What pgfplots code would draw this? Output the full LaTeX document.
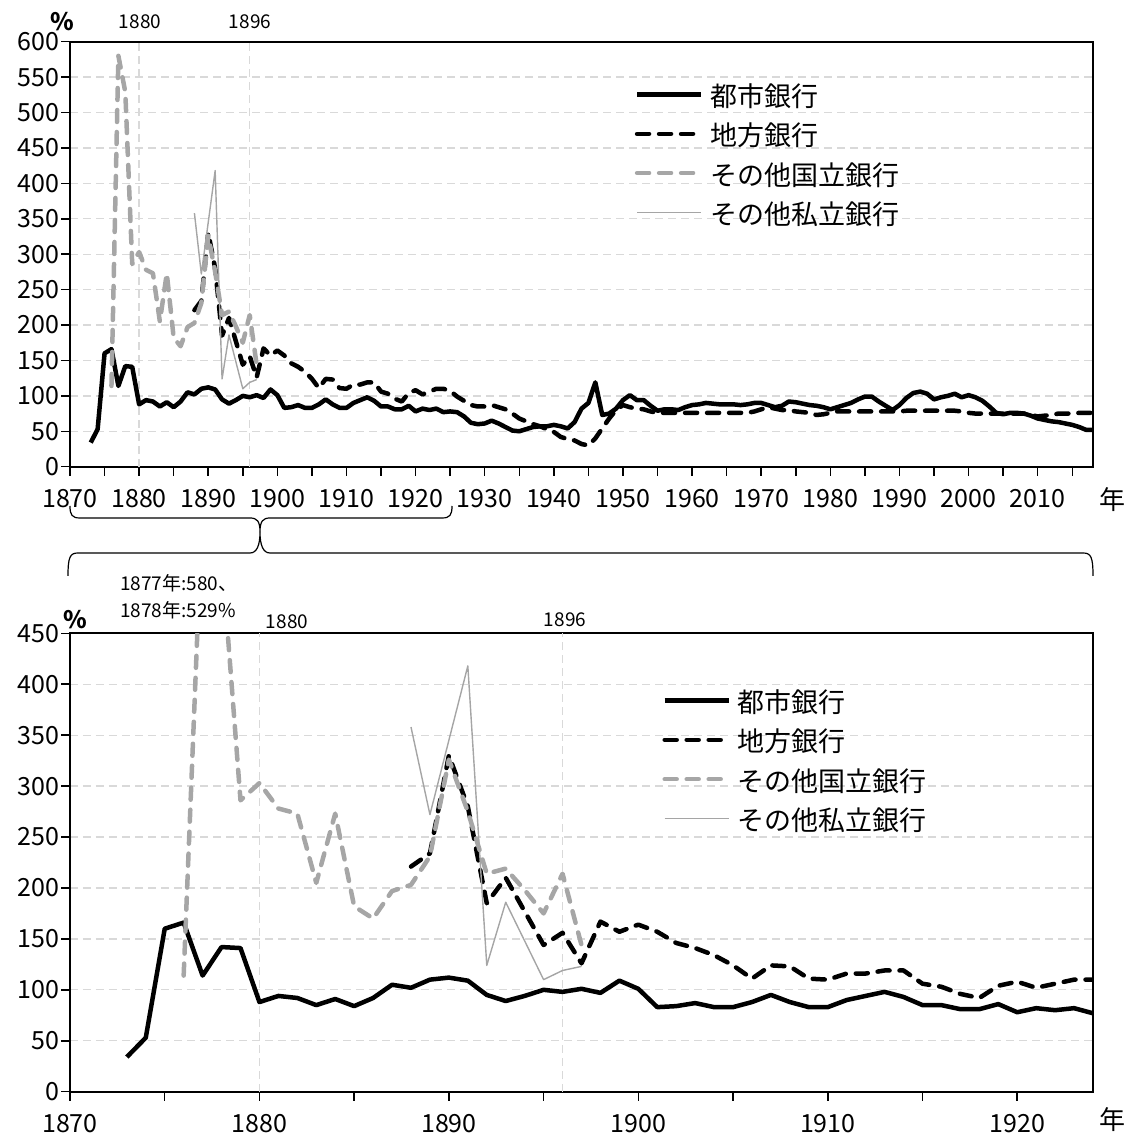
\documentclass[border=0pt]{standalone}
\usepackage{fontspec}
\setmainfont{Noto Sans CJK JP}
\usepackage{pgfplots}
\usepackage{pgfplotstable}
\pgfplotsset{compat=1.18}

\definecolor{natgray}{HTML}{A6A6A6}
\definecolor{privgray}{HTML}{A5A5A5}
\definecolor{gridgray}{HTML}{D9D9D9}

% 都市銀行
\pgfplotstableread{
year ratio
1873 34
1874 53
1875 160
1876 166
1877 114
1878 142
1879 141
1880 88
1881 94
1882 92
1883 85
1884 91
1885 84
1886 92
1887 105
1888 102
1889 110
1890 112
1891 109
1892 95
1893 89
1894 94
1895 100
1896 98
1897 101
1898 97
1899 109
1900 101
1901 83
1902 84
1903 87
1904 83
1905 83
1906 88
1907 95
1908 88
1909 83
1910 83
1911 90
1912 94
1913 98
1914 93
1915 85
1916 85
1917 81
1918 81
1919 86
1920 78
1921 82
1922 80
1923 82
1924 77
1925 78
1926 77
1927 71
1928 62
1929 60
1930 61
1931 65
1932 61
1933 56
1934 51
1935 50
1936 53
1937 56
1938 57
1939 57
1940 59
1941 57
1942 54
1943 63
1944 82
1945 90
1946 119
1947 73
1948 75
1949 82
1950 94
1951 101
1952 94
1953 94
1954 86
1955 79
1956 81
1957 81
1958 80
1959 84
1960 87
1961 88
1962 90
1963 89
1964 88
1965 88
1966 88
1967 87
1968 88
1969 90
1970 90
1971 87
1972 84
1973 86
1974 92
1975 91
1976 89
1977 87
1978 86
1979 84
1980 81
1981 84
1982 87
1983 90
1984 95
1985 99
1986 99
1987 92
1988 86
1989 80
1990 87
1991 97
1992 104
1993 106
1994 103
1995 95
1996 98
1997 100
1998 103
1999 98
2000 101
2001 98
2002 93
2003 85
2004 76
2005 74
2006 76
2007 76
2008 75
2009 72
2010 68
2011 66
2012 64
2013 63
2014 61
2015 59
2016 56
2017 52
2018 52
}\citybanks

% 地方銀行
\pgfplotstableread{
year ratio
1888 221
1889 234
1890 330
1891 280
1892 185
1893 210
1894 177
1895 144
1896 156
1897 126
1898 167
1899 157
1900 164
1901 157
1902 146
1903 141
1904 134
1905 124
1906 111
1907 124
1908 123
1909 111
1910 110
1911 116
1912 116
1913 119
1914 119
1915 106
1916 103
1917 96
1918 92
1919 104
1920 108
1921 102
1922 106
1923 110
1924 110
1925 107
1926 99
1927 93
1928 87
1929 85
1930 85
1931 87
1932 84
1933 81
1934 75
1935 68
1936 64
1937 60
1938 57
1939 53
1940 49
1941 42
1942 39
1943 37
1944 32
1945 30
1946 40
1947 54
1948 68
1949 80
1950 87
1951 84
1952 82
1953 81
1954 78
1955 76
1956 76
1957 76
1958 76
1959 76
1960 76
1961 76
1962 76
1963 76
1964 76
1965 76
1966 76
1967 76
1968 76
1969 78
1970 81
1971 84
1972 82
1973 80
1974 80
1975 78
1976 77
1977 76
1978 73
1979 74
1980 76
1981 78
1982 78
1983 78
1984 78
1985 78
1986 78
1987 78
1988 78
1989 78
1990 78
1991 79
1992 79
1993 79
1994 79
1995 79
1996 79
1997 79
1998 79
1999 78
2000 76
2001 75
2002 75
2003 75
2004 75
2005 75
2006 75
2007 75
2008 75
2009 73
2010 71
2011 72
2012 73
2013 75
2014 75
2015 75
2016 76
2017 76
2018 76
}\regionalbanks

% その他国立銀行
\pgfplotstableread{
year ratio
1876 114
1877 580
1878 529
1879 286
1880 303
1881 278
1882 273
1883 205
1884 273
1885 182
1886 170
1887 197
1888 203
1889 231
1890 326
1891 275
1892 214
1893 219
1894 198
1895 175
1896 214
1897 144
}\nationalbanks

% その他私立銀行
\pgfplotstableread{
year ratio
1888 358
1889 272
1890 345
1891 418
1892 124
1893 186
1894 148
1895 110
1896 119
1897 123
}\privatebanks

\pgfplotsset{
  citybank/.style={black, line width=4.5pt, line join=round},
  regionalbank/.style={black, line width=4.5pt, line join=round, line cap=round, dash pattern=on 12pt off 10pt},
  nationalbank/.style={natgray, line width=4.5pt, line join=round, line cap=round, dash pattern=on 12pt off 10pt},
  privatebank/.style={privgray, line width=1.4pt, line join=round},
  bankaxis/.style={
    scale only axis,
    width=1023pt,
    xmin=1870, ymin=0,
    axis line style={black, line width=1.8pt},
    tick pos=left, tick align=outside,
    major tick length=9pt, minor tick length=9pt,
    every tick/.style={black, line width=1.5pt},
    ytick distance=50,
    ymajorgrids,
    major grid style={gridgray, line width=1.3pt, dash pattern=on 8pt off 5pt},
    extra x ticks={1880,1896},
    extra x tick labels={},
    extra x tick style={grid=major, major tick length=0pt},
    ticklabel style={font=\fontsize{25}{25}\selectfont},
    xticklabel style={yshift=-10pt},
    yticklabel style={xshift=2pt},
    /pgf/number format/assume math mode=true,
    /pgf/number format/1000 sep={},
    legend style={draw=none, fill=none, font=\fontsize{27}{27}\selectfont,
      nodes={inner sep=0pt, text height=19pt, text depth=6pt},
      row sep=14.2pt,
      /tikz/every even column/.append style={column sep=8pt},
      /tikz/every odd column/.append style={column sep=7pt}},
    legend cell align=left,
    legend image code/.code={\draw[##1] (0pt,5.5pt) -- (64pt,5.5pt);},
  },
}

\newcommand{\bankseries}{%
  \addplot[citybank] table[x=year,y=ratio]{\citybanks};
  \addlegendentry{都市銀行}
  \addplot[regionalbank] table[x=year,y=ratio]{\regionalbanks};
  \addlegendentry{地方銀行}
  \addplot[nationalbank] table[x=year,y=ratio]{\nationalbanks};
  \addlegendentry{その他国立銀行}
  \addplot[privatebank] table[x=year,y=ratio]{\privatebanks};
  \addlegendentry{その他私立銀行}
}

\begin{document}
\begin{tikzpicture}
\useasboundingbox (0,0) rectangle (1128pt,1135pt);

% 1870--2018
\begin{axis}[bankaxis, at={(70pt,668.3pt)}, anchor=south west,
  height=425pt, xmax=2018, ymax=600,
  xtick={1870,1880,...,2010}, minor xtick={1875,1885,...,2015},
  legend style={at={(0.549,0.897)}, anchor=north west}]
\bankseries
\end{axis}

% 1870--1924
\begin{axis}[bankaxis, at={(70pt,43.3pt)}, anchor=south west,
  height=458.4pt, xmax=1924, ymax=450,
  xtick={1870,1880,...,1920}, minor xtick={1875,1885,...,1915},
  legend style={at={(0.576,0.873)}, anchor=north west}]
\bankseries
\end{axis}

\begin{scope}[x=1pt, y=-1pt, shift={(0pt,1135pt)}]
  % units and reference years
  \node[font=\fontsize{24}{24}\selectfont\bfseries] at (62,22) {\%};
  \node[font=\fontsize{19}{19}\selectfont] at (140,22) {1880};
  \node[font=\fontsize{19}{19}\selectfont] at (250,22) {1896};
  \node[font=\fontsize{26}{26}\selectfont] at (1112,500) {年};
  \node[font=\fontsize{24}{24}\selectfont\bfseries] at (75,620) {\%};
  \node[font=\fontsize{19}{19}\selectfont] at (287,622) {1880};
  \node[font=\fontsize{19}{19}\selectfont] at (565,620) {1896};
  \node[font=\fontsize{26}{26}\selectfont] at (1112,1120) {年};
  \node[font=\fontsize{19}{19}\selectfont, anchor=west, inner sep=0pt] at (120,583) {1877年:580、};
  \node[font=\fontsize{19}{19}\selectfont, anchor=west, inner sep=0pt] at (120,610) {1878年:529\%};
  % braces linking the two periods
  \draw[line width=1.2pt]
    (70,506) .. controls (70,515) and (72,518) .. (80,518) -- (250,518)
    .. controls (257,518) and (260,521) .. (260,532)
    .. controls (260,521) and (263,518) .. (270,518) -- (442,518)
    .. controls (450,518) and (452,515) .. (452,506);
  \draw[line width=1.2pt]
    (68,576) .. controls (68,557) and (70,553) .. (78,553) -- (250,553)
    .. controls (257,553) and (260,545) .. (260,532)
    .. controls (260,545) and (263,553) .. (270,553) -- (1083,553)
    .. controls (1091,553) and (1093,557) .. (1093,576);
\end{scope}
\end{tikzpicture}
\end{document}
